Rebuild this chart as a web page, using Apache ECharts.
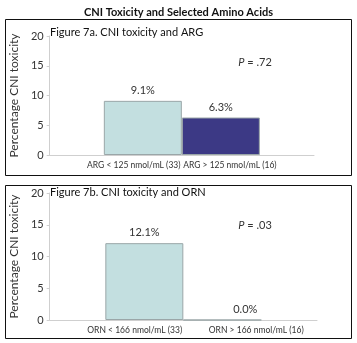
<!DOCTYPE html>
<html>
<head>
<meta charset="utf-8">
<script src="https://cdn.jsdelivr.net/npm/echarts@6/dist/echarts.min.js"></script>
<style>
  html, body { margin: 0; padding: 0; background: #fff; }
  #chart { width: 357px; height: 343px; }
</style>
</head>
<body>
<div id="chart"></div>
<script>
// Chart data
const mainTitle = 'CNI Toxicity and Selected Amino Acids';
const panelTitles = ['Figure 7a. CNI toxicity and ARG', 'Figure 7b. CNI toxicity and ORN'];
const argGroups = ['ARG < 125 nmol/mL (33)', 'ARG > 125 nmol/mL (16)'];
const argToxicity = [9.1, 6.3];
const ornGroups = ['ORN < 166 nmol/mL (33)', 'ORN > 166 nmol/mL (16)'];
const ornToxicity = [12.1, 0.0];
const pValues = ['.72', '.03'];
const yAxisName = 'Percentage CNI toxicity';
const yTicks = [0, 5, 10, 15, 20];

const FONT = 'Lato';
const TEXT = '#333';
const AXIS = '#cfcfcf';
const FILLS = ['#c3dfe0', '#3c3985'];

// Layout of the two panels; group names sit on a fine grid of label slots
const panels = [
  { groups: argGroups, values: argToxicity, p: pValues[0], title: panelTitles[0],
    grid: { left: 40, top: 36, width: 274, height: 119 },
    box: { y: 19, h: 156 }, slots: 23, labelAt: [7, 15], valueShift: [0, 0],
    titlePos: [50, 27], pPos: [255, 62] },
  { groups: ornGroups, values: ornToxicity, p: pValues[1], title: panelTitles[1],
    grid: { left: 44, top: 193, width: 273, height: 127 },
    box: { y: 185, h: 153 }, slots: 23, labelAt: [7, 17], valueShift: [0, 23],
    titlePos: [50, 187], pPos: [255, 225] }
];

const grids = [], xAxes = [], yAxes = [], series = [], graphics = [];

panels.forEach((pn, i) => {
  grids.push(Object.assign({ containLabel: false }, pn.grid));

  // axis carrying the bars: a single category holding both groups side by side
  xAxes.push({
    gridIndex: i, type: 'category', position: 'bottom', data: [''],
    axisLine: { lineStyle: { color: AXIS, width: 1 } },
    axisTick: { show: false }, axisLabel: { show: false }
  });
  // axis carrying the group names under each bar
  const names = new Array(pn.slots).fill('');
  pn.labelAt.forEach((s, k) => { names[s] = pn.groups[k]; });
  xAxes.push({
    gridIndex: i, type: 'category', position: 'bottom', boundaryGap: false, data: names,
    axisLine: { show: false }, axisTick: { show: false },
    axisLabel: { interval: 0, margin: 6, color: TEXT, fontFamily: FONT, fontSize: 8.5 }
  });

  yAxes.push({
    gridIndex: i, type: 'value', min: yTicks[0], max: yTicks[yTicks.length - 1],
    interval: yTicks[1] - yTicks[0],
    name: yAxisName, nameLocation: 'middle', nameGap: 23,
    nameTextStyle: { color: TEXT, fontFamily: FONT, fontSize: 12 },
    axisLine: { show: true, lineStyle: { color: AXIS } },
    axisTick: { show: true, length: 3, lineStyle: { color: AXIS } },
    axisLabel: { color: TEXT, fontFamily: FONT, fontSize: 11, margin: 6 },
    splitLine: { show: false }
  });

  pn.values.forEach((v, k) => {
    series.push({
      type: 'bar', xAxisIndex: i * 2, yAxisIndex: i,
      data: [v], barWidth: 78, barGap: '0%',
      itemStyle: { color: FILLS[k], borderColor: '#9aa6a8', borderWidth: 1 },
      label: {
        show: true, position: 'top', distance: 5, offset: [pn.valueShift[k], 0],
        formatter: (p) => p.value.toFixed(1) + '%',
        color: TEXT, fontFamily: FONT, fontSize: 11
      },
      silent: true, animation: false
    });
  });

  graphics.push({
    type: 'rect', shape: { x: 5.5, y: pn.box.y + 0.5, width: 346, height: pn.box.h },
    style: { fill: 'none', stroke: '#111', lineWidth: 1 }, z: -1
  });
  graphics.push({
    type: 'text', x: pn.titlePos[0], y: pn.titlePos[1],
    style: { text: pn.title, fill: '#111', font: '11px ' + FONT }
  });
  graphics.push({
    type: 'text', x: pn.pPos[0], y: pn.pPos[1],
    style: {
      text: '{i|P} = ' + pn.p, textAlign: 'center', textVerticalAlign: 'middle',
      fill: TEXT, font: '11px ' + FONT,
      rich: { i: { fontStyle: 'italic', fontFamily: FONT, fontSize: 11, fill: TEXT } }
    }
  });
});

const chart = echarts.init(document.getElementById('chart'), null, { renderer: 'canvas' });
chart.setOption({
  animation: false,
  backgroundColor: '#fff',
  title: {
    text: mainTitle, left: 'center', top: 2,
    textStyle: { fontFamily: FONT, fontWeight: 'bold', fontSize: 11, color: '#111' }
  },
  grid: grids, xAxis: xAxes, yAxis: yAxes, series: series,
  graphic: graphics
});
</script>
</body>
</html>
